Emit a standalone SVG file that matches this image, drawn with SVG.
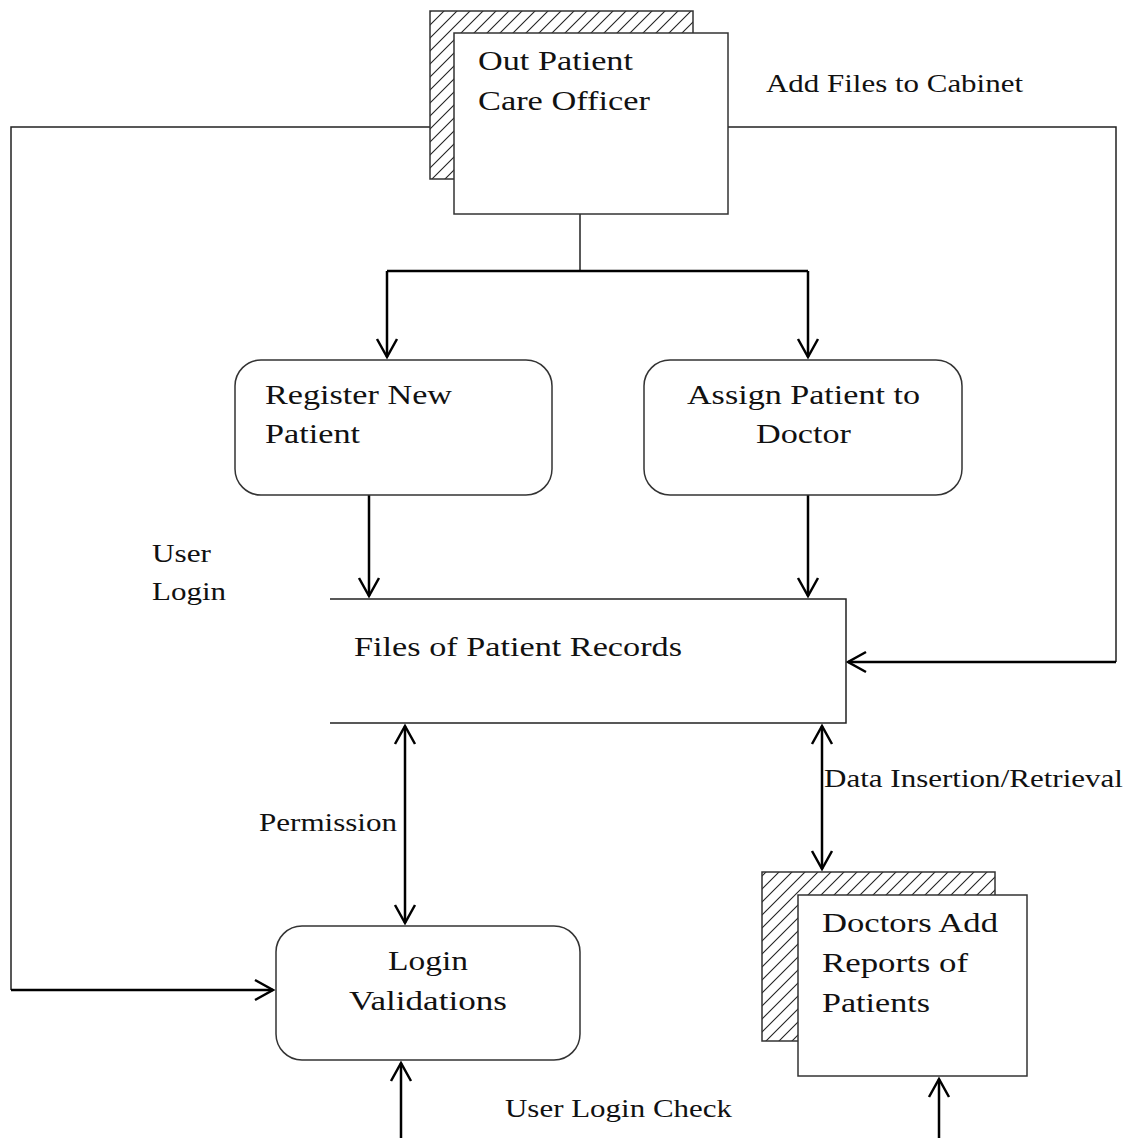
<svg xmlns="http://www.w3.org/2000/svg" width="1129" height="1138" viewBox="0 0 1129 1138">
  <style>
    .box { fill: #fff; stroke: #333; stroke-width: 1.5; }
    .hatch { fill: url(#diag); stroke: #333; stroke-width: 1.5; }
    .line { fill: none; stroke: #222; stroke-width: 1.5; }
    .flow { fill: none; stroke: #000; stroke-width: 2.5; }
    text { font-family: "Liberation Serif", "Times New Roman", serif; fill: #111; }
    .big { font-size: 27px; }
    .lbl { font-size: 25px; }
  </style>
  <defs>
    <pattern id="diag" patternUnits="userSpaceOnUse" width="13" height="13">
      <rect width="13" height="13" fill="#fff"/>
      <path d="M0,13 L13,0 M-2,2 L2,-2 M11,15 L15,11" stroke="#222" stroke-width="1.1"/>
    </pattern>
    <marker id="head" markerUnits="userSpaceOnUse" markerWidth="24" markerHeight="24" viewBox="-20 -12 24 24" refX="0" refY="0" orient="auto-start-reverse">
      <path d="M-18,-10 L0,0 L-18,10" fill="none" stroke="#000" stroke-width="2.5"/>
    </marker>
  </defs>

  <!-- connectors -->
  <g id="connectors">
    <!-- officer to login validations -->
    <path class="line" d="M430,127 H11 V990"/>
    <path class="flow" d="M11,990 H273" marker-end="url(#head)"/>
    <!-- officer to patient files (cabinet) -->
    <path class="line" d="M728,127 H1116 V662"/>
    <path class="flow" d="M1116,662 H848" stroke-width="2" marker-end="url(#head)"/>
    <!-- officer split to processes -->
    <path class="line" d="M580,214 V271"/>
    <path class="flow" d="M387,271 H808" stroke-width="2"/>
    <path class="flow" d="M387,271 V357" marker-end="url(#head)"/>
    <path class="flow" d="M808,271 V357" marker-end="url(#head)"/>
    <!-- processes to files -->
    <path class="flow" d="M369,495 V596" marker-end="url(#head)"/>
    <path class="flow" d="M808,495 V596" marker-end="url(#head)"/>
    <!-- files <-> login validations -->
    <path class="flow" d="M405,726 V923" marker-start="url(#head)" marker-end="url(#head)"/>
    <!-- files <-> doctor reports -->
    <path class="flow" d="M822,726 V869" marker-start="url(#head)" marker-end="url(#head)"/>
    <!-- incoming from below -->
    <path class="flow" d="M401,1138 V1063" marker-end="url(#head)"/>
    <path class="flow" d="M939,1138 V1079" marker-end="url(#head)"/>
  </g>

  <!-- connector labels -->
  <g id="labels">
    <text class="lbl" x="766" y="92" textLength="257" lengthAdjust="spacingAndGlyphs">Add Files to Cabinet</text>
    <text class="lbl" x="152" y="562" textLength="59" lengthAdjust="spacingAndGlyphs">User</text>
    <text class="lbl" x="152" y="600" textLength="74" lengthAdjust="spacingAndGlyphs">Login</text>
    <text class="lbl" x="259" y="831" textLength="138" lengthAdjust="spacingAndGlyphs">Permission</text>
    <text class="lbl" x="824" y="787" textLength="299" lengthAdjust="spacingAndGlyphs">Data Insertion/Retrieval</text>
    <text class="lbl" x="505" y="1117" textLength="227" lengthAdjust="spacingAndGlyphs">User Login Check</text>
  </g>

  <!-- external entity: outpatient care officer -->
  <g id="officer">
    <rect class="hatch" x="430" y="11" width="263" height="168"/>
    <rect class="box" x="454" y="33" width="274" height="181"/>
    <text class="big" x="478" y="70" textLength="155" lengthAdjust="spacingAndGlyphs">Out Patient</text>
    <text class="big" x="478" y="110" textLength="172" lengthAdjust="spacingAndGlyphs">Care Officer</text>
  </g>

  <g id="register">
    <rect class="box" x="235" y="360" width="317" height="135" rx="26"/>
    <text class="big" x="265" y="404" textLength="187" lengthAdjust="spacingAndGlyphs">Register New</text>
    <text class="big" x="265" y="443" textLength="95" lengthAdjust="spacingAndGlyphs">Patient</text>
  </g>

  <g id="assign">
    <rect class="box" x="644" y="360" width="318" height="135" rx="26"/>
    <text class="big" x="687" y="404" textLength="233" lengthAdjust="spacingAndGlyphs">Assign Patient to</text>
    <text class="big" x="756" y="443" textLength="95" lengthAdjust="spacingAndGlyphs">Doctor</text>
  </g>

  <!-- data store: open on the left -->
  <g id="records">
    <rect x="330" y="599" width="516" height="124" fill="#fff"/>
    <path class="line" d="M330,599 H846 V723 H330" stroke="#333"/>
    <text class="big" x="354" y="656" textLength="328" lengthAdjust="spacingAndGlyphs">Files of Patient Records</text>
  </g>

  <g id="login">
    <rect class="box" x="276" y="926" width="304" height="134" rx="26"/>
    <text class="big" x="388" y="970" textLength="80" lengthAdjust="spacingAndGlyphs">Login</text>
    <text class="big" x="349" y="1010" textLength="158" lengthAdjust="spacingAndGlyphs">Validations</text>
  </g>

  <!-- external entity: doctors -->
  <g id="doctors">
    <rect class="hatch" x="762" y="872" width="233" height="169"/>
    <rect class="box" x="798" y="895" width="229" height="181"/>
    <text class="big" x="822" y="932" textLength="176" lengthAdjust="spacingAndGlyphs">Doctors Add</text>
    <text class="big" x="822" y="972" textLength="146" lengthAdjust="spacingAndGlyphs">Reports of</text>
    <text class="big" x="822" y="1012" textLength="108" lengthAdjust="spacingAndGlyphs">Patients</text>
  </g>
</svg>
